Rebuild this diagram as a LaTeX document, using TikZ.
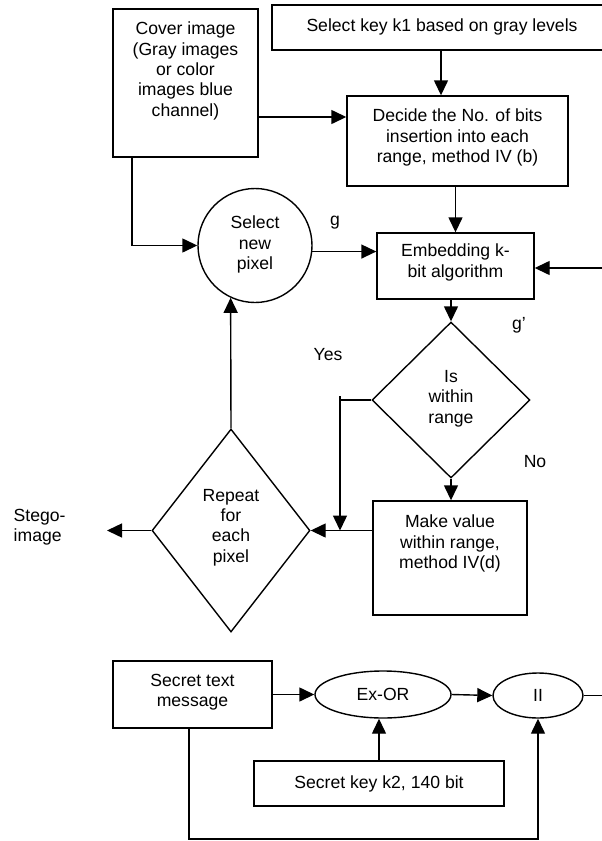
\documentclass[tikz,border=0pt]{standalone}
\usepackage{fontspec}
\setmainfont{Liberation Sans}
\usetikzlibrary{arrows.meta,shapes.geometric}
\begin{document}
\begin{tikzpicture}[x=1bp,y=-1bp,
  line width=1.4bp,
  every node/.style={font=\fontsize{17.6bp}{20.3bp}\selectfont, inner sep=0pt, align=center},
  shapebox/.style={draw, rectangle},
  roundnode/.style={draw, circle},
  ovalnode/.style={draw, ellipse},
  decision/.style={draw, diamond},
  txt/.style={},
  arr/.style={-{Triangle[length=15bp,width=14bp]}}
]
\useasboundingbox (0,0) rectangle (602,841);

% boxes
\node[shapebox, minimum width=338bp, minimum height=45bp] (k1) at (441,27.5) {};
\node[txt] (k1t) at (442,27) {Select key k1 based on gray levels};

\node[shapebox, minimum width=145bp, minimum height=148bp] (cover) at (185.5,83) {};
\node[txt] (covert) at (185.5,71) {Cover image\\(Gray images\\or color\\images blue\\channel)};

\node[shapebox, minimum width=221bp, minimum height=90bp] (decide) at (457.5,141) {};
\node[txt] (decidet) at (457.5,137.5) {Decide the No. of bits\\insertion into each\\range, method IV (b)};

\node[roundnode, minimum size=114bp] (circ) at (255,245.5) {};
\node[txt] (circt) at (255,244.5) {Select\\new\\pixel};

\node[shapebox, minimum width=157bp, minimum height=66bp] (embed) at (455.5,266) {};
\node[txt] (embedt) at (455.5,262.5) {Embedding k-\\bit algorithm};

\node[decision, minimum width=158bp, minimum height=156bp] (isr) at (451,400) {};
\node[txt] (isrt) at (451,398.5) {Is\\within\\range};

\node[shapebox, minimum width=154bp, minimum height=114bp] (make) at (450,558) {};
\node[txt] (maket) at (450,543.5) {Make value\\within range,\\method IV(d)};

\node[decision, minimum width=158bp, minimum height=203bp] (rep) at (231,530.5) {};
\node[txt] (rept) at (231,527.5) {Repeat\\for\\each\\pixel};

\node[txt, anchor=west, align=left] (stego) at (13,527.5) {Stego-\\image};

% labels
\node[txt] (lg) at (335,223) {g};
\node[txt] (lgp) at (519,325) {g'};
\node[txt] (lyes) at (328,355) {Yes};
\node[txt] (lno) at (535,462) {No};

% bottom part
\node[shapebox, minimum width=159bp, minimum height=67bp] (secret) at (192.5,694.5) {};
\node[txt] (secrett) at (192.5,692.5) {Secret text\\message};
\node[ovalnode, minimum width=136bp, minimum height=47bp] (exor) at (383,694.5) {Ex-OR};
\node[ovalnode, minimum width=90bp, minimum height=45bp] (par) at (538,695.5) {II};
\node[shapebox, minimum width=250bp, minimum height=45bp] (k2) at (379,783.5) {Secret key k2, 140 bit};

% coordinates
\coordinate (rin) at (603,268);
\coordinate (yesc) at (340,400);
\coordinate (yestop) at (340,396);
\coordinate (yesend) at (340,530.5);
\coordinate (stegotip) at (107,530.5);
\coordinate (parout) at (603,695.5);
\coordinate (cvturn) at (132,245.5);
\coordinate (sbturn) at (189,839);

% connectors
\draw[arr] (k1.south) -- (k1.south |- decide.north);
\draw[arr] (cover.east |- 0,117) -- (decide.west |- 0,117);
\draw[arr] (cover.south -| cvturn) -- (cvturn) -- (circ.west);
\draw[arr] (circ.-6) -- (circ.-6 -| embed.west);
\draw[arr] (decide.south -| embed.north) -- (embed.north);
\draw[arr] (rin) -- (rin -| embed.east);
\draw[arr] (isr.north |- embed.south) -- (isr.north);
\draw (isr.west) -- (yesc);
\draw[arr] (yestop) -- (yesend);
\draw[arr] (isr.south) -- (isr.south |- make.north);
\draw[arr] (make.west |- rep.east) -- (rep.east);
\draw[arr] (rep.west) -- (stegotip);
\draw[arr] (rep.north) -- (circ.-115);

\draw[arr] (secret.east) -- (exor.west);
\draw[arr] (exor.east) -- (par.west);
\draw (par.east) -- (parout);
\draw[arr] (k2.north) -- (k2.north |- exor.south);
\draw[arr] (secret.south -| sbturn) -- (sbturn) -- (sbturn -| par.south) -- (par.south);
\end{tikzpicture}
\end{document}
